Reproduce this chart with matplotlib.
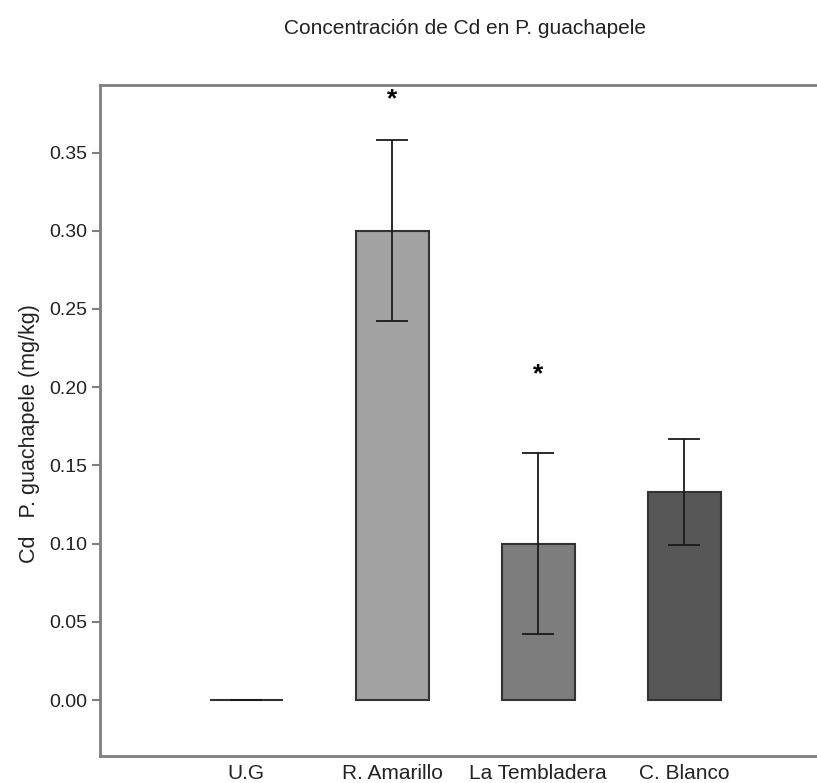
import numpy as np
import matplotlib.pyplot as plt

plt.rcParams['font.family'] = ['Liberation Sans', 'DejaVu Sans']

sites = ['U.G', 'R. Amarillo', 'La Tembladera', 'C. Blanco']
cd_mean = [0.0, 0.300, 0.100, 0.133]
cd_err = [0.0, 0.058, 0.058, 0.034]
bar_colors = ['#ffffff', '#a3a3a3', '#7d7d7d', '#575757']
signif = ['', '*', '*', '']
star_y = [0.0, 0.384, 0.208, 0.0]
yticks = [0.00, 0.05, 0.10, 0.15, 0.20, 0.25, 0.30, 0.35]

fig = plt.figure(figsize=(8.17, 7.83), dpi=100)
ax = fig.add_axes([100/817, 27/783, 717/817, 671/783])

x = np.arange(len(sites))
ax.bar(x, cd_mean, width=0.5, color=bar_colors, edgecolor='#333333', linewidth=1.5)
ax.errorbar(x, cd_mean, yerr=cd_err, fmt='none', ecolor='#1a1a1a',
            elinewidth=1.3, capsize=11.5, capthick=1.3)

for i, s in enumerate(signif):
    if s:
        ax.text(x[i], star_y[i], s, ha='center', va='center', fontsize=19,
                fontweight='bold', color='black')

ax.set_xlim(-1.0, 3.91)
ax.set_ylim(-0.0358, 0.3932)
ax.set_yticks(yticks)
ax.set_yticklabels(['%.2f' % v for v in yticks])
ax.set_xticks(x)
ax.set_xticklabels(sites)

for side in ['left', 'top', 'bottom']:
    ax.spines[side].set_color('#7f7f7f')
    ax.spines[side].set_linewidth(2)
ax.spines['right'].set_visible(False)

ax.tick_params(axis='y', length=6, width=1.5, color='#7f7f7f', labelsize=14,
               labelcolor='#222222', pad=3)
ax.tick_params(axis='x', length=0, labelsize=15, labelcolor='#222222', pad=6)

ax.set_ylabel('Cd   P. guachapele (mg/kg)', fontsize=15.5, color='#222222')
ax.yaxis.set_label_coords(-0.084, 0.48)
fig.text(465/817, 1 - 28/783, 'Concentración de Cd en P. guachapele',
         ha='center', va='center', fontsize=15, color='#222222')

fig.savefig('out.png', dpi=100)
